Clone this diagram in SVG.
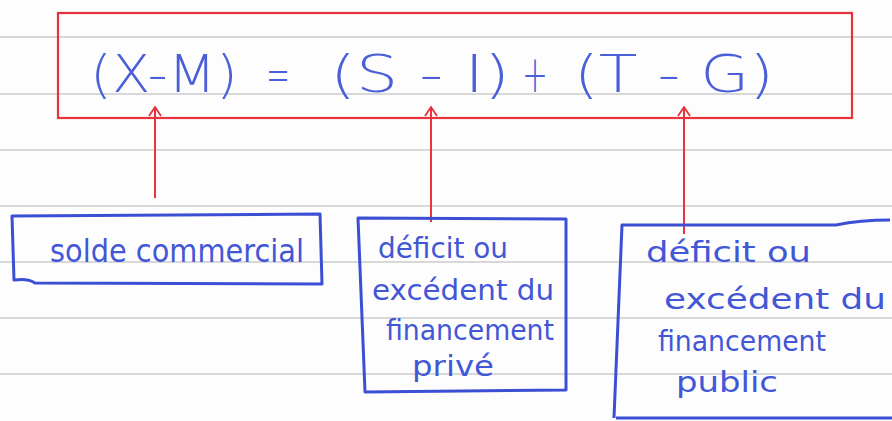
<svg xmlns="http://www.w3.org/2000/svg" width="892" height="421" viewBox="0 0 892 421">
<defs>
<style>
.rule{stroke:#b4b4b4;stroke-width:1.2}
.red{fill:none;stroke:#e8323c;stroke-width:2.2}
.box{fill:none;stroke:#3b4fd4;stroke-width:3;stroke-linejoin:round}
.eq{font-family:"DejaVu Sans",sans-serif;font-size:52px;fill:#4a5fd8;font-weight:300}
.lbl{font-family:"DejaVu Sans",sans-serif;font-size:28px;fill:#4257d6}
.conn{stroke:#e8323c;stroke-width:2}
</style>
<marker id="ah" viewBox="0 0 12 14" refX="11" refY="7" markerWidth="12" markerHeight="14" markerUnits="userSpaceOnUse" orient="auto">
<path d="M2,1 L11,7 L2,13" fill="none" stroke="#e8323c" stroke-width="1.8"/>
</marker>
</defs>
<rect width="892" height="421" fill="#fdfdfd"/>
<g id="ruling">
<line class="rule" x1="0" y1="37" x2="892" y2="37"/>
<line class="rule" x1="0" y1="94" x2="892" y2="94"/>
<line class="rule" x1="0" y1="150" x2="892" y2="150"/>
<line class="rule" x1="0" y1="206" x2="892" y2="206"/>
<line class="rule" x1="0" y1="262" x2="892" y2="262"/>
<line class="rule" x1="0" y1="318" x2="892" y2="318"/>
<line class="rule" x1="0" y1="374" x2="892" y2="374"/>
</g>
<g id="equation">
<rect class="red" x="58" y="13" width="794" height="105"/>
<text class="eq" x="90" y="92" textLength="148" lengthAdjust="spacingAndGlyphs">(X-M)</text>
<text class="eq" x="266" y="92" textLength="24" lengthAdjust="spacingAndGlyphs">=</text>
<text class="eq" x="330" y="92" textLength="180" lengthAdjust="spacingAndGlyphs">(S - I)</text>
<text class="eq" x="522" y="92" textLength="26" lengthAdjust="spacingAndGlyphs">+</text>
<text class="eq" x="574" y="92" textLength="200" lengthAdjust="spacingAndGlyphs">(T - G)</text>
</g>
<g id="connectors">
<line class="conn" x1="155" y1="198" x2="155" y2="107" marker-end="url(#ah)"/>
<line class="conn" x1="431" y1="222" x2="431" y2="107" marker-end="url(#ah)"/>
<line class="conn" x1="684" y1="234" x2="684" y2="107" marker-end="url(#ah)"/>
</g>
<g id="solde">
<path class="box" d="M12,216 L320,214 L322,284 L35,283 Q28,278 14,280 Z"/>
<text class="lbl" x="50" y="262" textLength="254" lengthAdjust="spacingAndGlyphs" style="font-size:32px">solde commercial</text>
</g>
<g id="prive">
<path class="box" d="M358,218 L566,219 L566,390 L365,392 Z"/>
<text class="lbl" x="378" y="258" textLength="130" lengthAdjust="spacingAndGlyphs">déficit ou</text>
<text class="lbl" x="372" y="300" textLength="182" lengthAdjust="spacingAndGlyphs">excédent du</text>
<text class="lbl" x="386" y="340" textLength="168" lengthAdjust="spacingAndGlyphs">financement</text>
<text class="lbl" x="412" y="376" textLength="82" lengthAdjust="spacingAndGlyphs">privé</text>
</g>
<g id="public">
<path class="box" d="M614,418 L622,225 L836,225 Q860,220 890,220 M616,418 L892,418"/>
<text class="lbl" x="646" y="262" textLength="165" lengthAdjust="spacingAndGlyphs">déficit ou</text>
<text class="lbl" x="664" y="309" textLength="222" lengthAdjust="spacingAndGlyphs">excédent du</text>
<text class="lbl" x="658" y="351" textLength="168" lengthAdjust="spacingAndGlyphs">financement</text>
<text class="lbl" x="676" y="392" textLength="102" lengthAdjust="spacingAndGlyphs">public</text>
</g>
</svg>
